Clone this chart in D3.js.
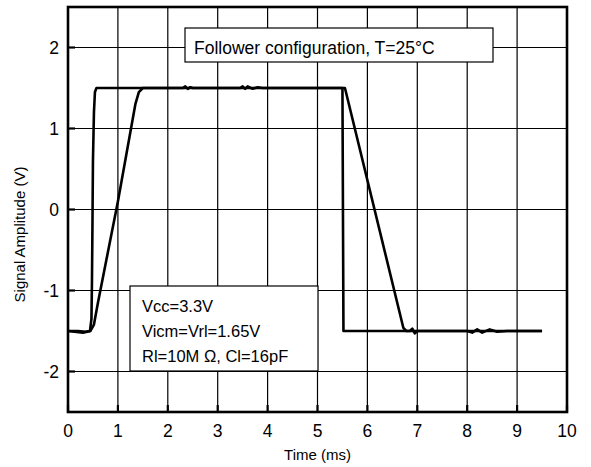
<!DOCTYPE html>
<html>
<head>
<meta charset="utf-8">
<script src="https://cdn.jsdelivr.net/npm/d3@7"></script>
<style>
  body { margin: 0; background: #fff; }
  svg text { font-family: "Liberation Sans", Arial, sans-serif; fill: #000; }
</style>
</head>
<body>
<div id="chart"></div>
<script>
// axis ticks
const xTicks = [0, 1, 2, 3, 4, 5, 6, 7, 8, 9, 10];
const yTicks = [-2, -1, 0, 1, 2];

// fast (step) response: [time ms, volts]
const fastTrace = [
  [0, -1.5], [0.2, -1.5], [0.35, -1.51], [0.44, -1.5], [0.47, -1.35], [0.48, -0.9],
  [0.49, -0.2], [0.5, 0.6], [0.52, 1.2], [0.54, 1.45], [0.57, 1.5],
  [2.3, 1.5], [2.35, 1.52], [2.4, 1.49], [2.45, 1.51], [2.5, 1.5],
  [3.45, 1.5], [3.5, 1.52], [3.55, 1.49], [3.6, 1.52], [3.7, 1.49], [3.8, 1.51], [3.9, 1.5],
  [5.5, 1.5], [5.52, -1.5],
  [6.85, -1.5], [6.9, -1.47], [6.95, -1.53], [7.0, -1.5],
  [8.0, -1.5], [8.1, -1.52], [8.2, -1.48], [8.3, -1.52], [8.45, -1.48], [8.6, -1.51], [8.8, -1.5],
  [9.5, -1.5]
];

// slow (slew limited) response: [time ms, volts]
const slowTrace = [
  [0, -1.5], [0.3, -1.52], [0.45, -1.5], [0.52, -1.42], [0.6, -1.15],
  [1.0, 0.1], [1.35, 1.3], [1.42, 1.45], [1.5, 1.5],
  [5.55, 1.5], [6.72, -1.46], [6.78, -1.5], [9.5, -1.5]
];

const noteTop = "Follower configuration, T=25\u00B0C";
const noteBottom = ["Vcc=3.3V", "Vicm=Vrl=1.65V", "Rl=10M \u03A9, Cl=16pF"];

const W = 591, H = 467;
const margin = { top: 7, right: 24, bottom: 55, left: 68 };

const svg = d3.select("#chart").append("svg").attr("width", W).attr("height", H);

const x = d3.scaleLinear().domain([0, 10]).range([margin.left, W - margin.right]);
const y = d3.scaleLinear().domain([-2.5, 2.5]).range([H - margin.bottom, margin.top]);

// grid
svg.append("g").selectAll("line").data(xTicks.slice(1, -1)).join("line")
  .attr("x1", d => x(d)).attr("x2", d => x(d))
  .attr("y1", y(2.5)).attr("y2", y(-2.5))
  .attr("stroke", "#000").attr("stroke-width", 1.2);
svg.append("g").selectAll("line").data(yTicks).join("line")
  .attr("x1", x(0)).attr("x2", x(10))
  .attr("y1", d => y(d)).attr("y2", d => y(d))
  .attr("stroke", "#000").attr("stroke-width", 1.2);

// inward tick marks
svg.append("g").selectAll("line").data(xTicks).join("line")
  .attr("x1", d => x(d)).attr("x2", d => x(d))
  .attr("y1", y(-2.5)).attr("y2", y(-2.5) - 7)
  .attr("stroke", "#000").attr("stroke-width", 2.2);
svg.append("g").selectAll("line").data(yTicks).join("line")
  .attr("x1", x(0)).attr("x2", x(0) + 7)
  .attr("y1", d => y(d)).attr("y2", d => y(d))
  .attr("stroke", "#000").attr("stroke-width", 2.2);

// tick labels
svg.append("g").selectAll("text").data(xTicks).join("text")
  .attr("x", d => x(d)).attr("y", 437)
  .attr("text-anchor", "middle").style("font-size", "17.5px")
  .text(d => d);
svg.append("g").selectAll("text").data(yTicks).join("text")
  .attr("x", x(0) - 9).attr("y", d => y(d) + 6)
  .attr("text-anchor", "end").style("font-size", "17.5px")
  .text(d => d);

// traces
const line = d3.line().x(d => x(d[0])).y(d => y(d[1]));
[slowTrace, fastTrace].forEach(tr => {
  svg.append("path").datum(tr).attr("d", line)
    .attr("fill", "none").attr("stroke", "#000")
    .attr("stroke-width", 2.6).attr("stroke-linejoin", "round");
});

// annotation boxes
svg.append("rect").attr("x", 185).attr("y", 28).attr("width", 308).attr("height", 34)
  .attr("fill", "#fff").attr("stroke", "#000").attr("stroke-width", 1.2);
svg.append("text").attr("x", 194).attr("y", 54).style("font-size", "17.5px").text(noteTop);

svg.append("rect").attr("x", 130).attr("y", 286).attr("width", 188).attr("height", 85)
  .attr("fill", "#fff").attr("stroke", "#000").attr("stroke-width", 1.2);
svg.append("g").selectAll("text").data(noteBottom).join("text")
  .attr("x", 142).attr("y", (d, i) => 312 + i * 25)
  .style("font-size", "16.5px").text(d => d);

// frame
svg.append("rect").attr("x", x(0)).attr("y", y(2.5))
  .attr("width", x(10) - x(0)).attr("height", y(-2.5) - y(2.5))
  .attr("fill", "none").attr("stroke", "#000").attr("stroke-width", 2.6);

// axis titles
svg.append("text").attr("x", (x(0) + x(10)) / 2).attr("y", 460)
  .attr("text-anchor", "middle").style("font-size", "15px").text("Time (ms)");
svg.append("text").attr("transform", "translate(25," + ((y(2.5) + y(-2.5)) / 2 + 25) + ") rotate(-90)")
  .attr("text-anchor", "middle").style("font-size", "15px").text("Signal Amplitude (V)");
</script>
</body>
</html>
